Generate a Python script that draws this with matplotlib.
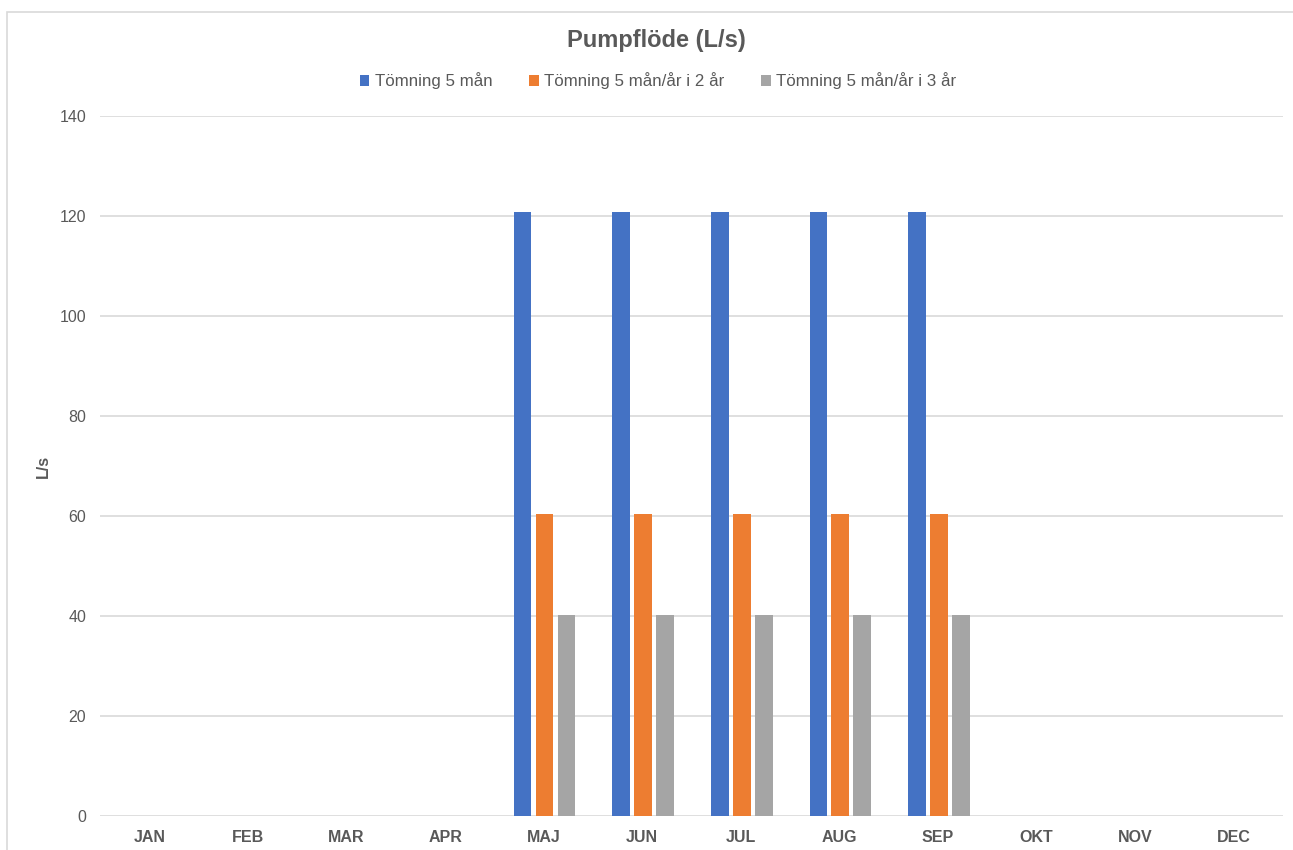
import matplotlib
matplotlib.use("Agg")
import matplotlib.pyplot as plt
import numpy as np
from matplotlib.patches import Rectangle

months = ["JAN", "FEB", "MAR", "APR", "MAJ", "JUN", "JUL", "AUG", "SEP", "OKT", "NOV", "DEC"]
series_names = ["Tömning 5 mån", "Tömning 5 mån/år i 2 år", "Tömning 5 mån/år i 3 år"]
s1 = [0, 0, 0, 0, 120.8, 120.8, 120.8, 120.8, 120.8, 0, 0, 0]
s2 = [0, 0, 0, 0, 60.4, 60.4, 60.4, 60.4, 60.4, 0, 0, 0]
s3 = [0, 0, 0, 0, 40.3, 40.3, 40.3, 40.3, 40.3, 0, 0, 0]
colors = ["#4472C4", "#ED7D31", "#A5A5A5"]

plt.rcParams['font.family'] = ['Liberation Sans', 'DejaVu Sans']
txt = "#595959"

W, H = 1293, 850
fig = plt.figure(figsize=(W / 100, H / 100), dpi=100)
fig.patch.set_facecolor("white")

# chart border (partly cropped)
fig.patches.append(Rectangle((7 / W, -0.01), 1.1, (H - 12) / H + 0.01, transform=fig.transFigure,
                             fill=False, edgecolor="#D9D9D9", linewidth=1.2))

ax = fig.add_axes([100 / W, (H - 816) / H, (1283 - 100) / W, (816 - 116) / H])
x = np.arange(len(months))
bw = 0.18
step = 0.223
for i, (vals, c, name) in enumerate(zip([s1, s2, s3], colors, series_names)):
    ax.bar(x + (i - 1) * step + 0.01, vals, width=bw, color=c, label=name, zorder=3)

ax.set_xlim(-0.5, len(months) - 0.5)
ax.set_ylim(0, 140)
ax.set_yticks(np.arange(0, 141, 20))
ax.set_xticks(x)
ax.set_xticklabels(months, fontsize=11.5, fontweight="bold", color=txt)
ax.tick_params(axis="y", labelsize=11.5, colors=txt, length=0, pad=10)
ax.tick_params(axis="x", length=0, pad=10)
ax.grid(axis="y", color="#D9D9D9", linewidth=1.2, zorder=0)
for s in ax.spines.values():
    s.set_visible(False)
ax.set_ylabel("L/s", fontsize=11.5, fontweight="bold", color=txt)
ax.yaxis.set_label_coords((51 - 100) / (1283 - 100), 0.5)

fig.text(656 / W, (H - 41) / H, "Pumpflöde (L/s)", ha="center", va="center",
         fontsize=17, fontweight="bold", color=txt)

leg = fig.legend(*ax.get_legend_handles_labels(), loc="center", bbox_to_anchor=(658 / W, (H - 81) / H),
                 ncol=3, frameon=False, fontsize=12.2, handlelength=0.55, handleheight=0.6,
                 handletextpad=0.3, columnspacing=2.2, labelcolor=txt)

fig.savefig("out.png", dpi=100, facecolor="white")
